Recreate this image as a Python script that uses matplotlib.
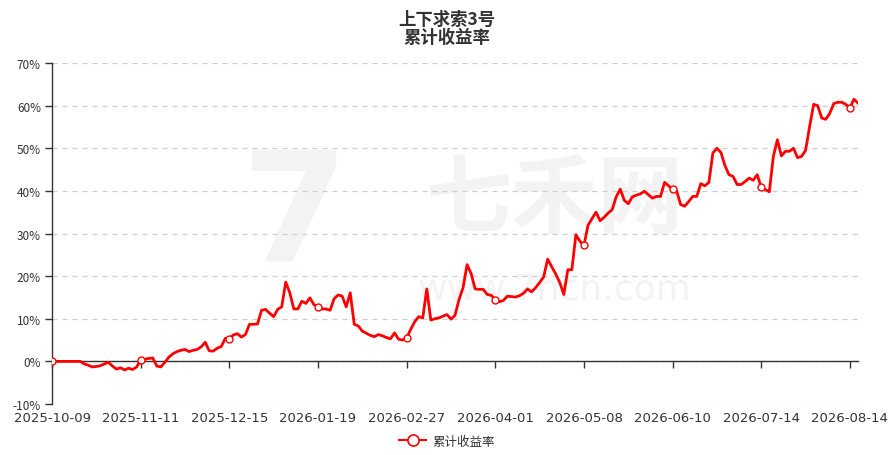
import matplotlib
matplotlib.use("Agg")
import matplotlib.pyplot as plt
from matplotlib.ticker import FuncFormatter, MultipleLocator
from matplotlib.lines import Line2D

plt.rcParams['font.family'] = ['Noto Sans CJK SC', 'DejaVu Sans']

title = "上下求索3号\n累计收益率"
series_name = "累计收益率"

# x-axis labels shown on the category axis (one every 22 points)
tick_labels = ["2025-10-09", "2025-11-11", "2025-12-15", "2026-01-19", "2026-02-27",
               "2026-04-01", "2026-05-08", "2026-06-10", "2026-07-14", "2026-08-14"]
tick_step = 22

# cumulative return in %
returns = [
    0.0, 0.0, 0.0, 0.0, 0.0, 0.0, 0.0, 0.0, -0.6, -0.9, -1.3, -1.2, -1.0, -0.6, -0.2,
    -1.1, -1.8, -1.5, -2.0, -1.6, -1.9, -1.3,
    0.3, 0.5, 0.7, 0.8, -1.1, -1.3, -0.2, 1.0, 1.8, 2.3, 2.6, 2.8, 2.3, 2.6, 2.8,
    3.4, 4.5, 2.5, 2.4, 3.1, 3.5, 5.4,
    5.3, 6.2, 6.5, 5.7, 6.3, 8.7, 8.7, 8.8, 12.0, 12.2, 11.3, 10.5, 12.2, 12.8, 18.6,
    16.1, 12.3, 12.3, 14.1, 13.6, 14.9, 13.3,
    12.8, 12.3, 12.3, 12.0, 14.7, 15.6, 15.3, 12.8, 16.1, 8.7, 8.3, 7.1, 6.6, 6.1,
    5.8, 6.3, 6.0, 5.6, 5.3, 6.7, 5.2, 5.0,
    5.5, 7.5, 9.3, 10.5, 10.2, 17.0, 9.7, 10.0, 10.2, 10.6, 11.0, 9.9, 10.8, 14.5,
    17.3, 22.7, 20.6, 17.0, 16.9, 16.9, 15.7, 15.5,
    14.5, 14.0, 14.3, 15.3, 15.2, 15.1, 15.4, 16.0, 17.0, 16.3, 17.3, 18.5, 19.8,
    24.0, 22.2, 20.5, 18.5, 15.7, 21.5, 21.5, 29.7, 28.2,
    27.2, 31.9, 33.5, 35.0, 33.0, 33.8, 34.8, 35.6, 38.6, 40.4, 37.8, 37.0, 38.6,
    39.0, 39.3, 39.9, 39.1, 38.3, 38.7, 38.7, 42.0, 41.2,
    40.4, 40.0, 36.8, 36.4, 37.5, 38.7, 38.7, 41.7, 41.2, 42.0, 48.9, 50.0, 49.0,
    45.9, 43.8, 43.4, 41.5, 41.5, 42.2, 43.0, 42.5, 43.8,
    40.8, 40.3, 39.8, 48.1, 52.0, 48.2, 49.3, 49.3, 50.0, 47.8, 48.1, 49.5, 55.1,
    60.3, 60.0, 57.1, 56.8, 58.2, 60.5, 60.8, 60.8, 60.3, 59.5, 61.5, 60.6,
]

red = '#ff0000'
text_col = '#333333'
wm_col = '#f3f3f3'

fig = plt.figure(figsize=(8.94, 4.56), dpi=100)
ax = fig.add_axes([0.0582, 0.1118, 0.9015, 0.7478])

x = list(range(len(returns)))

# faint watermark, kept behind the axes
fig.text(0.62, 0.56, "七禾网", fontsize=62, color=wm_col, ha='center', va='center',
         zorder=-1, fontweight='bold')
fig.text(0.62, 0.365, "www.7hcn.com", fontsize=26, color=wm_col, ha='center', va='center',
         family='DejaVu Sans', zorder=-1)
fig.text(0.33, 0.52, "7", fontsize=110, color=wm_col, ha='center', va='center',
         family='DejaVu Sans', fontweight='bold', zorder=-1)

ax.set_facecolor('none')
ax.plot(x, returns, color=red, lw=2, zorder=3,
        marker='o', markevery=tick_step, markersize=5,
        markerfacecolor='white', markeredgecolor=red, markeredgewidth=1)

ax.set_xlim(0, len(returns) - 1)
ax.set_ylim(-10, 70)
ax.yaxis.set_major_locator(MultipleLocator(10))
ax.yaxis.set_major_formatter(FuncFormatter(lambda v, p: f"{v:.0f}%"))
ax.grid(axis='y', color='#cccccc', linestyle=(0, (4, 4)), lw=0.9)
ax.set_axisbelow(True)

for s in ['top', 'right']:
    ax.spines[s].set_visible(False)
ax.spines['left'].set_color('#333333')
ax.spines['left'].set_linewidth(1)
ax.spines['bottom'].set_position(('data', 0))
ax.spines['bottom'].set_color('#333333')
ax.spines['bottom'].set_linewidth(1)

tick_pos = [i * tick_step for i in range(len(tick_labels))]
ax.set_xticks(tick_pos)
ax.tick_params(axis='x', direction='out', length=5, width=1, color='#333333', labelbottom=False)
ax.tick_params(axis='y', direction='out', length=5, width=1, color='#333333',
               labelsize=8.5, labelcolor=text_col, pad=3)

sec = ax.secondary_xaxis(0.0)
sec.set_xticks(tick_pos)
sec.set_xticklabels(tick_labels, family='DejaVu Sans')
sec.tick_params(length=0, labelsize=9.5, labelcolor=text_col, pad=5)
sec.spines['bottom'].set_visible(False)

fig.text(0.5, 0.977, title, ha='center', va='top', fontsize=12.5, fontweight='bold',
         color=text_col, linespacing=1.05)

handle = Line2D([], [], color=red, lw=1.5, marker='o', markersize=8,
                markerfacecolor='white', markeredgecolor=red, markeredgewidth=1.2)
fig.legend([handle], [series_name], loc='center', bbox_to_anchor=(0.5, 0.03),
           frameon=False, fontsize=9, handlelength=2.2, handletextpad=0.5,
           labelcolor=text_col)

fig.savefig("out.png", dpi=100)
